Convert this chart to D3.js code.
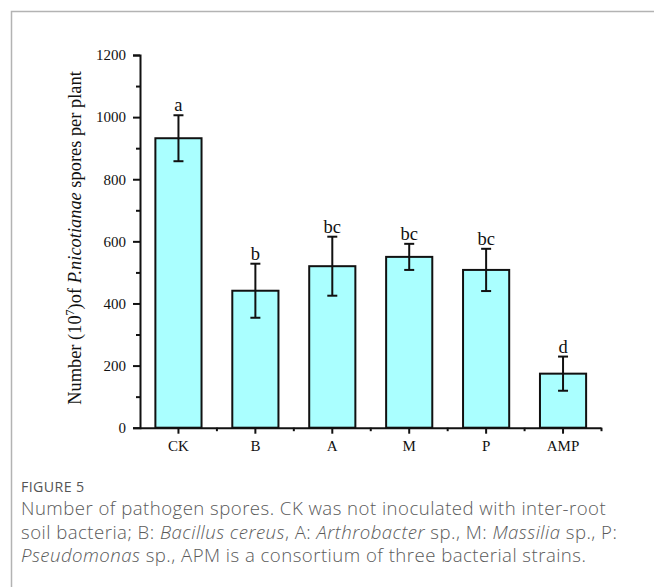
<!DOCTYPE html>
<html>
<head>
<meta charset="utf-8">
<script src="https://cdn.jsdelivr.net/npm/d3@7"></script>
<style>
  html, body { margin: 0; padding: 0; background: #fff; }
  svg { display: block; }
</style>
</head>
<body>
<script>
// Spore counts (10^7 per plant) with standard deviations and significance letters
const categories = ["CK", "B", "A", "M", "P", "AMP"];
const means = [932, 441, 520, 550, 508, 174];
const errors = [74, 87, 95, 42, 68, 55];
const letters = ["a", "b", "bc", "bc", "bc", "d"];
const yTicks = [0, 200, 400, 600, 800, 1000, 1200];
const yMinorTicks = [100, 300, 500, 700, 900, 1100];

const W = 654, H = 587;
const svg = d3.select("body").append("svg").attr("width", W).attr("height", H);

// Figure frame
svg.append("path")
  .attr("d", `M11.5,${H} V11.5 H${W}`)
  .attr("fill", "none").attr("stroke", "#b3b3b3").attr("stroke-width", 1.5);

const plotLeft = 140, plotRight = 601.5, plotTop = 55, plotBottom = 427.7;
const serif = "'Liberation Serif', 'Times New Roman', serif";

const x = d3.scaleBand().domain(categories).range([plotLeft, plotRight]).paddingInner(0.4).paddingOuter(0.2);
const y = d3.scaleLinear().domain([0, 1200]).range([plotBottom, plotTop]);

const g = svg.append("g");

// Bars
g.selectAll("rect.bar").data(categories).join("rect")
  .attr("class", "bar")
  .attr("x", d => x(d))
  .attr("width", x.bandwidth())
  .attr("y", (d, i) => y(means[i]))
  .attr("height", (d, i) => y(0) - y(means[i]))
  .attr("fill", "#aaffff")
  .attr("stroke", "#111").attr("stroke-width", 2);

// Error bars
const eb = g.selectAll("g.err").data(categories).join("g").attr("class", "err")
  .attr("transform", d => `translate(${x(d) + x.bandwidth() / 2},0)`);
eb.append("line")
  .attr("y1", (d, i) => y(means[i] + errors[i]))
  .attr("y2", (d, i) => y(means[i] - errors[i]))
  .attr("stroke", "#111").attr("stroke-width", 2);
eb.append("line").attr("x1", -5).attr("x2", 5)
  .attr("y1", (d, i) => y(means[i] + errors[i])).attr("y2", (d, i) => y(means[i] + errors[i]))
  .attr("stroke", "#111").attr("stroke-width", 2);
eb.append("line").attr("x1", -5).attr("x2", 5)
  .attr("y1", (d, i) => y(means[i] - errors[i])).attr("y2", (d, i) => y(means[i] - errors[i]))
  .attr("stroke", "#111").attr("stroke-width", 2);
eb.append("text")
  .attr("y", (d, i) => y(means[i] + errors[i]) - 4)
  .attr("text-anchor", "middle")
  .attr("font-family", serif).attr("font-size", 18.5).attr("fill", "#111")
  .text((d, i) => letters[i]);

// Y axis with major and minor ticks
const yAxis = g.append("g").attr("transform", `translate(${plotLeft},0)`)
  .call(d3.axisLeft(y).tickValues(yTicks).tickSize(7).tickPadding(7).tickFormat(d3.format("d")));
g.append("g").attr("transform", `translate(${plotLeft},0)`)
  .call(d3.axisLeft(y).tickValues(yMinorTicks).tickSize(4).tickFormat(""))
  .call(s => s.select(".domain").remove());

// X axis with category ticks and boundary ticks
const xAxis = g.append("g").attr("transform", `translate(0,${plotBottom})`)
  .call(d3.axisBottom(x).tickSize(6).tickPadding(7).tickSizeOuter(0));
const step = x.step();
const boundaries = categories.map(c => x(c) + x.bandwidth() / 2 + step / 2);
g.append("g").selectAll("line").data(boundaries).join("line")
  .attr("x1", d => d).attr("x2", d => d)
  .attr("y1", plotBottom).attr("y2", plotBottom + 3.5)
  .attr("stroke", "#111").attr("stroke-width", 2);

[yAxis, xAxis].forEach(a => {
  a.selectAll(".domain").attr("stroke", "#111").attr("stroke-width", 2);
  a.selectAll("text").attr("font-family", serif).attr("font-size", 15).attr("fill", "#111");
});
g.selectAll(".tick line").attr("stroke", "#111").attr("stroke-width", 2);
xAxis.select(".domain").attr("d", `M${plotLeft},0.5H${plotRight}`);

// Y axis title
const title = g.append("text")
  .attr("transform", `translate(81,238) rotate(-90)`)
  .attr("text-anchor", "middle")
  .attr("font-family", serif).attr("font-size", 18.4).attr("fill", "#111");
title.append("tspan").text("Number (10");
title.append("tspan").attr("font-size", 12).attr("dy", -7).text("7");
title.append("tspan").attr("dy", 7).text(")of ");
title.append("tspan").attr("font-style", "italic").text("P.nicotianae");
title.append("tspan").text(" spores per plant");

// Caption
const sans = "'Open Sans', 'Noto Sans', sans-serif";
svg.append("text").attr("x", 21).attr("y", 492)
  .attr("font-family", sans).attr("font-size", 14.2).attr("letter-spacing", 0.4).attr("fill", "#555")
  .text("FIGURE 5");
const capLines = [
  [["Number of pathogen spores. CK was not inoculated with inter-root", false]],
  [["soil bacteria; B: ", false], ["Bacillus cereus", true], [", A: ", false], ["Arthrobacter", true],
   [" sp., M: ", false], ["Massilia", true], [" sp., P:", false]],
  [["Pseudomonas", true], [" sp., APM is a consortium of three bacterial strains.", false]]
];
capLines.forEach((parts, i) => {
  const t = svg.append("text").attr("x", 21).attr("y", 515 + i * 23.5)
    .attr("font-family", sans).attr("font-size", 18.6).attr("font-weight", 300)
    .attr("letter-spacing", 0.47).attr("fill", "#5a5a5a");
  parts.forEach(([s, it]) => t.append("tspan").attr("font-style", it ? "italic" : null).text(s));
});
</script>
</body>
</html>
